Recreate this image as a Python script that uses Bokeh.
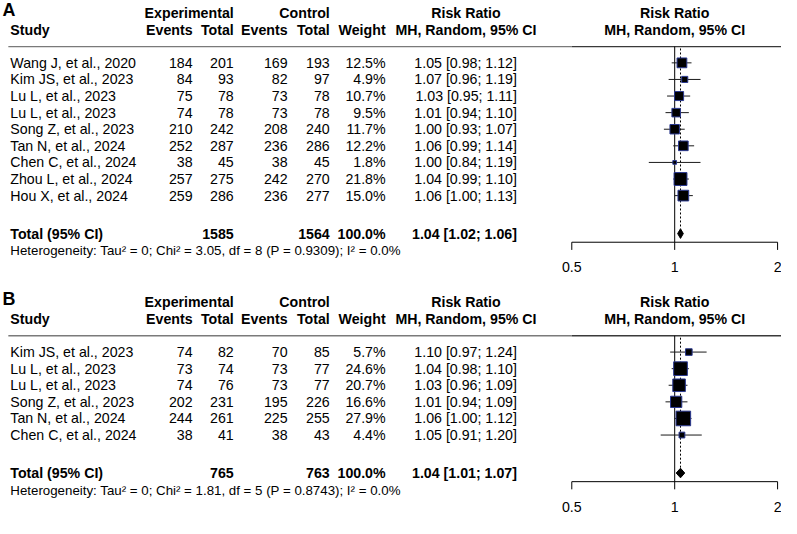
import math
from bokeh.plotting import figure
from bokeh.models import Range1d, LogScale, ColumnDataSource
from bokeh.core.properties import value
from bokeh.embed import file_html
from bokeh.resources import INLINE

# ---------------- data : panel A ----------------
studies_a = ["Wang J, et al., 2020", "Kim JS, et al., 2023", "Lu L, et al., 2023",
             "Lu L, et al., 2023", "Song Z, et al., 2023", "Tan N, et al., 2024",
             "Chen C, et al., 2024", "Zhou L, et al., 2024", "Hou X, et al., 2024"]
exp_events_a = [184, 84, 75, 74, 210, 252, 38, 257, 259]
exp_total_a = [201, 93, 78, 78, 242, 287, 45, 275, 286]
ctl_events_a = [169, 82, 73, 73, 208, 236, 38, 242, 236]
ctl_total_a = [193, 97, 78, 78, 240, 286, 45, 270, 277]
weight_a = [12.5, 4.9, 10.7, 9.5, 11.7, 12.2, 1.8, 21.8, 15.0]
rr_a = [1.05, 1.07, 1.03, 1.01, 1.00, 1.06, 1.00, 1.04, 1.06]
lo_a = [0.98, 0.96, 0.95, 0.94, 0.93, 0.99, 0.84, 0.99, 1.00]
hi_a = [1.12, 1.19, 1.11, 1.10, 1.07, 1.14, 1.19, 1.10, 1.13]
total_exp_a, total_ctl_a, total_weight_a = 1585, 1564, 100.0
pooled_a = [1.04, 1.02, 1.06]  # estimate, lower, upper
het_a = "Heterogeneity: Tau\u00b2 = 0; Chi\u00b2 = 3.05, df = 8 (P = 0.9309); I\u00b2 = 0.0%"

# ---------------- data : panel B ----------------
studies_b = ["Kim JS, et al., 2023", "Lu L, et al., 2023", "Lu L, et al., 2023",
             "Song Z, et al., 2023", "Tan N, et al., 2024", "Chen C, et al., 2024"]
exp_events_b = [74, 73, 74, 202, 244, 38]
exp_total_b = [82, 74, 76, 231, 261, 41]
ctl_events_b = [70, 73, 73, 195, 225, 38]
ctl_total_b = [85, 77, 77, 226, 255, 43]
weight_b = [5.7, 24.6, 20.7, 16.6, 27.9, 4.4]
rr_b = [1.10, 1.04, 1.03, 1.01, 1.06, 1.05]
lo_b = [0.97, 0.98, 0.96, 0.94, 1.00, 0.91]
hi_b = [1.24, 1.10, 1.09, 1.09, 1.12, 1.20]
total_exp_b, total_ctl_b, total_weight_b = 765, 763, 100.0
pooled_b = [1.04, 1.01, 1.07]
het_b = "Heterogeneity: Tau\u00b2 = 0; Chi\u00b2 = 1.81, df = 5 (P = 0.8743); I\u00b2 = 0.0%"

axis_ticks = [0.5, 1, 2]
axis_tick_labels = ["0.5", "1", "2"]
null_value = 1.0

# ---------------- layout ----------------
W, H = 781, 518          # page size of the figure
RW, RH = 797, 540        # design coordinate space
FS = 0.97                # font scale
FONT = "Liberation Sans"
X_NULL = 688.0           # design x of RR = 1
PX_DOUBLING = 105.0      # design px per doubling of RR
ROW = 17.3

p = figure(width=W, height=H, x_range=Range1d(0, RW), y_range=Range1d(RH, 0),
           output_backend="svg", toolbar_location=None, min_border=0,
           x_axis_type=None, y_axis_type=None, outline_line_color=None,
           background_fill_color="white", border_fill_color="white")
p.grid.visible = False
p.extra_x_ranges = {"rr": Range1d(start=2 ** ((0 - X_NULL) / PX_DOUBLING),
                                  end=2 ** ((RW - X_NULL) / PX_DOUBLING))}
p.extra_x_scales = {"rr": LogScale()}


def fs(px):
    return value(f"{px * FS:.1f}px")


def txt(x, y, s, size=14.6, bold=False, align="left"):
    p.text(x=[x], y=[y], text=[s], text_font=value(FONT), text_font_size=fs(size),
           text_font_style="bold" if bold else "normal", text_align=align,
           text_baseline="middle", text_color="black")


def col_text(src, x, field, align, size=14.6, bold=False):
    p.text(x=x, y="y", text=field, source=src, text_font=value(FONT),
           text_font_size=fs(size), text_font_style="bold" if bold else "normal",
           text_align=align, text_baseline="middle", text_color="black")


def ci_str(e, l, h):
    return f"{e:.2f} [{l:.2f}; {h:.2f}]"


def panel(label, o, studies, ee, et, ce, ct, w, rr, lo, hi, te, tc, tw, pooled, het):
    n = len(studies)
    ys = [65 + o + i * ROW for i in range(n)]
    y_total = ys[-1] + 39.6
    y_het = y_total + 18
    y_axis = y_total + 9
    src = ColumnDataSource(dict(
        y=ys, study=studies,
        ee=[str(v) for v in ee], et=[str(v) for v in et],
        ce=[str(v) for v in ce], ct=[str(v) for v in ct],
        w=[f"{v:.1f}%" for v in w],
        ci=[ci_str(a, b, c) for a, b, c in zip(rr, lo, hi)],
        rr=rr, lo=lo, hi=hi,
        sz=[2.85 * math.sqrt(v) * FS for v in w],
    ))

    # panel letter and headers
    txt(2, 10 + o, label, size=18.5, bold=True)
    txt(238, 13 + o, "Experimental", bold=True, align="right")
    txt(336, 13 + o, "Control", bold=True, align="right")
    txt(475, 13 + o, "Risk Ratio", bold=True, align="center")
    txt(688, 13 + o, "Risk Ratio", bold=True, align="center")
    txt(10, 31 + o, "Study", bold=True)
    txt(196, 31 + o, "Events", bold=True, align="right")
    txt(238, 31 + o, "Total", bold=True, align="right")
    txt(293, 31 + o, "Events", bold=True, align="right")
    txt(336, 31 + o, "Total", bold=True, align="right")
    txt(393, 31 + o, "Weight", bold=True, align="right")
    txt(475, 31 + o, "MH, Random, 95% CI", bold=True, align="center")
    txt(688, 31 + o, "MH, Random, 95% CI", bold=True, align="center")

    # separator
    p.segment(x0=[8], x1=[583], y0=[48 + o], y1=[48 + o], line_color="#7a7a7a", line_width=1.3)
    p.segment(x0=[583], x1=[RW], y0=[48 + o], y1=[48 + o], line_color="#3a3a3a", line_width=1.3)

    # table columns
    col_text(src, 10, "study", "left")
    col_text(src, 196, "ee", "right")
    col_text(src, 238, "et", "right")
    col_text(src, 293, "ce", "right")
    col_text(src, 336, "ct", "right")
    col_text(src, 393, "w", "right")
    col_text(src, 527, "ci", "right")

    # total row
    txt(10, y_total, "Total (95% CI)", bold=True)
    txt(238, y_total, str(te), bold=True, align="right")
    txt(336, y_total, str(tc), bold=True, align="right")
    txt(393, y_total, f"{tw:.1f}%", bold=True, align="right")
    txt(527, y_total, ci_str(*pooled), bold=True, align="right")
    txt(10, y_het, het, size=13.7)

    # forest
    p.segment(x0=[null_value], x1=[null_value], y0=[48 + o], y1=[y_axis],
              line_color="black", line_width=1, x_range_name="rr")
    p.segment(x0=[pooled[0]], x1=[pooled[0]], y0=[50 + o], y1=[y_total - 5],
              line_color="black", line_width=1, line_dash="2 2", x_range_name="rr")
    p.segment(x0="lo", x1="hi", y0="y", y1="y", source=src, line_color="#1a1a1a",
              line_width=1, x_range_name="rr")
    p.scatter(x="rr", y="y", size="sz", marker="square", source=src,
              fill_color="black", line_color="#2b3990", line_width=1, x_range_name="rr")
    p.patch(x=[pooled[1], pooled[0], pooled[2], pooled[0]],
            y=[y_total, y_total - 5, y_total, y_total + 5],
            fill_color="black", line_color="black", line_width=1, x_range_name="rr")

    # axis
    p.segment(x0=[min(axis_ticks)], x1=[max(axis_ticks)], y0=[y_axis], y1=[y_axis],
              line_color="black", line_width=1, x_range_name="rr")
    p.segment(x0=axis_ticks, x1=axis_ticks, y0=[y_axis] * len(axis_ticks),
              y1=[y_axis + 8] * len(axis_ticks), line_color="black", line_width=1,
              x_range_name="rr")
    p.text(x=axis_ticks, y=[y_axis + 26] * len(axis_ticks), text=axis_tick_labels,
           x_range_name="rr", text_font=value(FONT), text_font_size=fs(14.6),
           text_align="center", text_baseline="middle", text_color="black")


panel("A", 0, studies_a, exp_events_a, exp_total_a, ctl_events_a, ctl_total_a,
      weight_a, rr_a, lo_a, hi_a, total_exp_a, total_ctl_a, total_weight_a, pooled_a, het_a)
panel("B", 301.5, studies_b, exp_events_b, exp_total_b, ctl_events_b, ctl_total_b,
      weight_b, rr_b, lo_b, hi_b, total_exp_b, total_ctl_b, total_weight_b, pooled_b, het_b)

open("out.html", "w").write(file_html(p, INLINE))
